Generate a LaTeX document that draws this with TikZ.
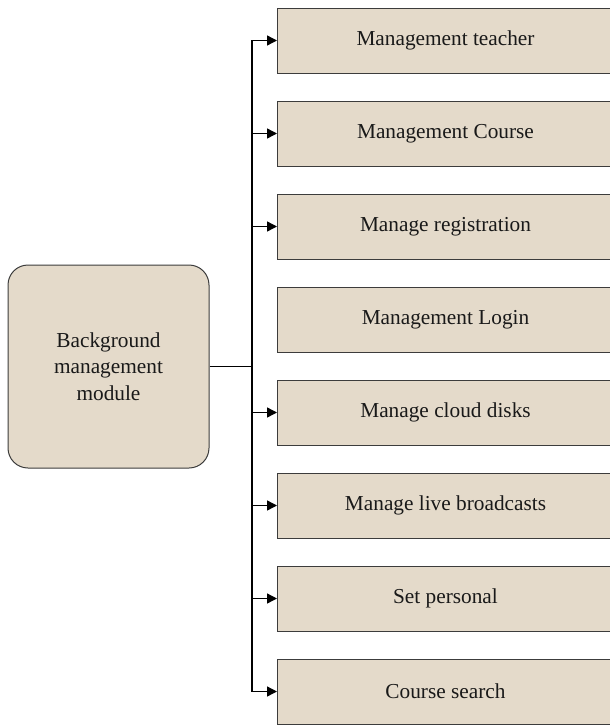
\documentclass[tikz,border=0pt]{standalone}
\usepackage{fontspec}
\setmainfont{Liberation Serif}
\usetikzlibrary{arrows.meta}
\definecolor{boxfill}{HTML}{E4DACA}
\definecolor{boxline}{HTML}{3C3C3C}
\tikzset{
  item/.style={draw=boxline, line width=1pt, fill=boxfill, rectangle, minimum width=336pt, minimum height=65pt, anchor=west, inner sep=0pt, font=\fontsize{21.3}{25}\selectfont, text=black!90},
  mainbox/.style={draw=boxline, line width=1pt, fill=boxfill, rounded corners=20pt, minimum width=201pt, minimum height=203pt, inner sep=0pt, align=center, font=\fontsize{21.3}{26.5}\selectfont, text=black!90},
  link/.style={line width=1.4pt, black},
  arr/.style={link, -{Triangle[length=10pt,width=10pt]}, shorten >=0pt}
}
\begin{document}
\begin{tikzpicture}[x=1pt,y=-1pt]
\useasboundingbox (0,0) rectangle (610,726);
\node[mainbox] (m) at (108.5,366.5) {Background\\management\\module};
\node[item] (b1) at (277,40.5) {Management teacher};
\node[item] (b2) at (277,133.5) {Management Course};
\node[item] (b3) at (277,226.5) {Manage registration};
\node[item] (b4) at (277,319.5) {Management Login};
\node[item] (b5) at (277,412.5) {Manage cloud disks};
\node[item] (b6) at (277,505.5) {Manage live broadcasts};
\node[item] (b7) at (277,598.5) {Set personal};
\node[item] (b8) at (277,691.5) {Course search};
\coordinate (t) at (252,366.5);
\draw[link] (m.east) -- (t);
\foreach \b in {b1,b2,b3,b5,b6,b7,b8}{
  \draw[arr] (t) |- (\b.west);
}
\end{tikzpicture}
\end{document}
